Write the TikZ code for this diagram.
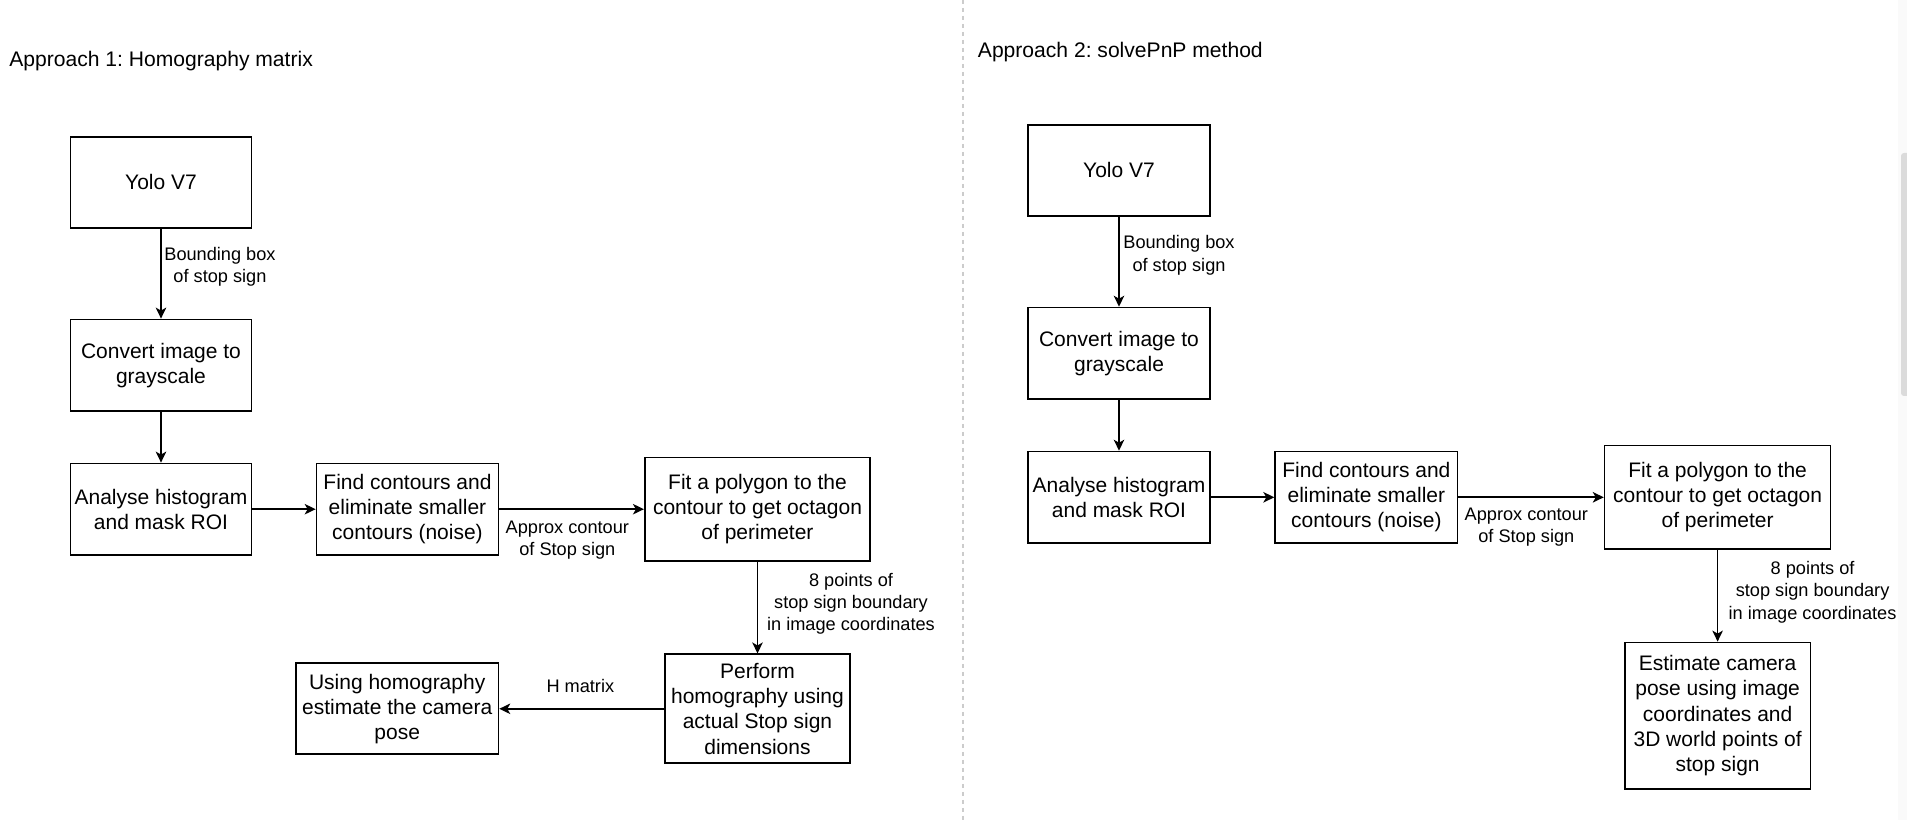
\documentclass[tikz,border=0pt]{standalone}
\usepackage{fontspec}
\setmainfont{Liberation Sans}
\usetikzlibrary{arrows.meta,positioning}
\frenchspacing

\begin{document}
\begin{tikzpicture}[x=0.02cm, y=-0.02cm,
    stage/.style={draw, line width=0.034cm, align=center, inner sep=1pt,
        minimum width=3.63cm, minimum height=1.83cm,
        font=\fontsize{11.95}{14.35}\selectfont},
    flow/.style={-{Stealth[length=0.22cm,width=0.21cm,inset=0.06cm]}, line width=0.032cm},
    lbl/.style={align=center, inner sep=0pt, font=\fontsize{10.35}{12.6}\selectfont},
    heading/.style={anchor=west, inner sep=0pt, font=\fontsize{12}{14}\selectfont}]
    \useasboundingbox (0,0) rectangle (1907,820);

    % divider and scrollbar
    \draw[gray!40, line width=0.04cm, dash pattern=on 0.08cm off 0.08cm] (963.3,0) -- (963.3,820);
    \fill[black!2] (1898.3,0) rectangle (1907,820);
    \fill[black!14, rounded corners=0.06cm] (1901,153) rectangle (1910,396);

    % Approach 1
    \node[heading] (ttlA) at (9,60.7) {Approach 1: Homography matrix};
    \node[stage, minimum width=3.62cm] (yoloA) at (161,182.5) {Yolo V7};
    \node[stage, minimum width=3.62cm] (grayA) at (161,365.2) {Convert image to\\grayscale};
    \node[stage, minimum width=3.62cm] (histA) at (161,509.2) {Analyse histogram\\and mask ROI};
    \node[stage, minimum width=3.64cm] (contA) at (407.5,509.2) {Find contours and\\eliminate smaller\\contours (noise)};
    \node[stage, minimum width=4.51cm, minimum height=2.07cm] (polyA) at (757.5,509.2) {Fit a polygon to the\\contour to get octagon\\of perimeter};
    \node[stage, minimum width=3.69cm, minimum height=2.18cm] (homoA) at (757.5,708.8) {Perform\\homography using\\actual Stop sign\\dimensions};
    \node[stage, minimum width=4.05cm, minimum height=1.82cm] (poseA) at (397.2,708.8) {Using homography\\estimate the camera\\pose};

    \draw[flow] (yoloA) -- node[lbl, xshift=1.18cm, yshift=0.136cm] (bbA) {Bounding box\\of stop sign} (grayA);
    \draw[flow] (grayA) -- (histA);
    \draw[flow] (histA) -- (contA);
    \draw[flow] (contA) -- node[lbl, xshift=-0.086cm, yshift=-0.624cm] (apxA) {Approx contour\\of Stop sign} (polyA);
    \draw[flow] (polyA) -- node[lbl, xshift=1.87cm, yshift=0.074cm] (ptsA) {8 points of\\stop sign boundary\\in image coordinates} (homoA);
    \draw[flow] (homoA) -- node[lbl, xshift=-0.03cm, yshift=0.456cm] (hmA) {H matrix} (poseA);

    % Approach 2
    \node[heading] (ttlB) at (977.6,52.3) {Approach 2: solvePnP method};
    \node[stage, minimum width=3.65cm] (yoloB) at (1119,170.5) {Yolo V7};
    \node[stage, minimum width=3.65cm] (grayB) at (1119,353.3) {Convert image to\\grayscale};
    \node[stage, minimum width=3.65cm] (histB) at (1119,497.3) {Analyse histogram\\and mask ROI};
    \node[stage, minimum width=3.65cm] (contB) at (1366.4,497.3) {Find contours and\\eliminate smaller\\contours (noise)};
    \node[stage, minimum width=4.52cm, minimum height=2.07cm] (polyB) at (1717.6,497.3) {Fit a polygon to the\\contour to get octagon\\of perimeter};
    \node[stage, minimum width=3.71cm, minimum height=2.93cm] (pnpB) at (1717.6,715.7) {Estimate camera\\pose using image\\coordinates and\\3D world points of\\stop sign};

    \draw[flow] (yoloB) -- node[lbl, xshift=1.2cm, yshift=0.132cm] (bbB) {Bounding box\\of stop sign} (grayB);
    \draw[flow] (grayB) -- (histB);
    \draw[flow] (histB) -- (contB);
    \draw[flow] (contB) -- node[lbl, xshift=-0.096cm, yshift=-0.604cm] (apxB) {Approx contour\\of Stop sign} (polyB);
    \draw[flow] (polyB) -- node[lbl, xshift=1.9cm, yshift=0.07cm] (ptsB) {8 points of\\stop sign boundary\\in image coordinates} (pnpB);
\end{tikzpicture}
\end{document}
